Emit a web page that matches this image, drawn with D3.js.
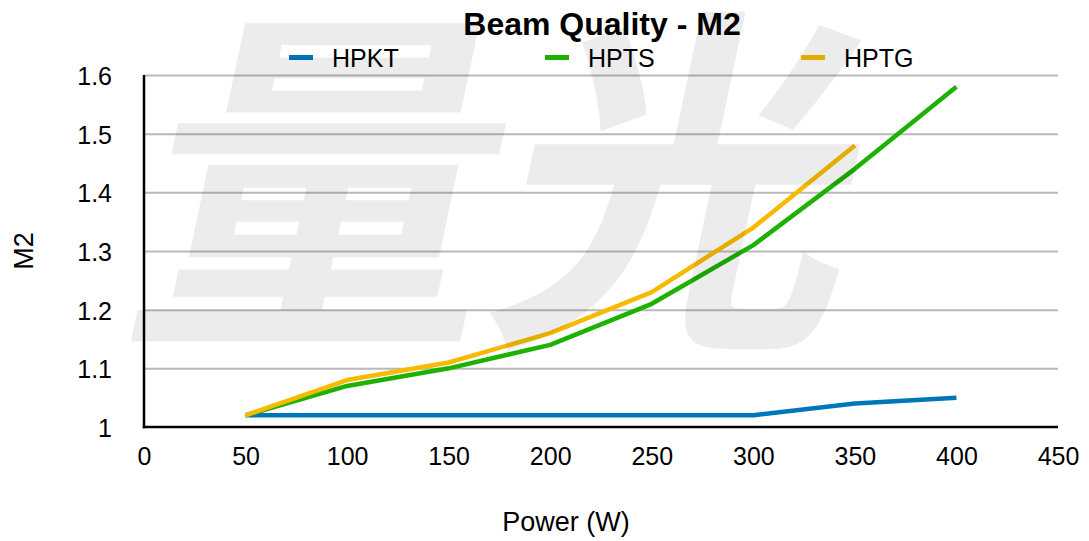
<html>

<head>
  <script src="https://d3js.org/d3.v7.min.js"></script>
  <style>
    body {
      margin: 0;
      background: #fff;
    }

    svg text {
      font-family: "Liberation Sans", Arial, Helvetica, sans-serif;
    }

    .axis .domain {
      display: none;
    }

    .gridlines .domain {
      display: none;
    }

    .gridlines line {
      stroke: #b9b9b9;
      stroke-width: 2;
    }
  </style>
</head>

<body>
  <svg width="1089" height="541" id="chart"></svg>
  <script>
    // data
    const powers = [50, 100, 150, 200, 250, 300, 350, 400];
    const hpkt = [1.02, 1.02, 1.02, 1.02, 1.02, 1.02, 1.04, 1.05];
    const hpts = [1.02, 1.07, 1.10, 1.14, 1.21, 1.31, 1.44, 1.58];
    const hptg = [1.02, 1.08, 1.11, 1.16, 1.23, 1.34, 1.48];
    const seriesNames = ["HPKT", "HPTS", "HPTG"];
    const seriesColors = ["#0076BA", "#1DB100", "#F8BA00"];
    const xTicks = [0, 50, 100, 150, 200, 250, 300, 350, 400, 450];
    const yTicks = [1, 1.1, 1.2, 1.3, 1.4, 1.5, 1.6];

    const seriesValues = [hpkt, hpts, hptg];
    const series = seriesNames.map((name, i) => ({
      name: name,
      color: seriesColors[i],
      points: seriesValues[i].map((v, j) => [powers[j], v])
    }));

    const svg = d3.select("svg#chart");
    const margins = { top: 75, right: 31, bottom: 114, left: 144 };
    const width = svg.attr("width"), height = svg.attr("height");
    const chartWidth = width - margins.left - margins.right;
    const chartHeight = height - margins.top - margins.bottom;

    const xScale = d3.scaleLinear().domain([0, 450]).range([0, chartWidth]);
    const yScale = d3.scaleLinear().domain([1, 1.6]).range([chartHeight, 0]);

    const chart = svg.append("g")
      .attr("transform", `translate(${margins.left},${margins.top})`);

    // gridlines (the 1.0 line is the black x axis)
    chart.append("g")
      .attr("class", "gridlines")
      .call(d3.axisLeft(yScale).tickValues(yTicks.slice(1)).tickSize(-chartWidth).tickFormat(""));

    // axes
    const leftAxis = chart.append("g")
      .attr("class", "axis")
      .call(d3.axisLeft(yScale).tickValues(yTicks).tickSize(0).tickPadding(32).tickFormat(d3.format("~g")));
    leftAxis.selectAll("text")
      .attr("font-size", 25).attr("fill", "#000").attr("dy", "0.38em")
      .style("font-family", "'Liberation Sans', Arial, sans-serif");

    const bottomAxis = chart.append("g")
      .attr("class", "axis")
      .attr("transform", `translate(0,${chartHeight})`)
      .call(d3.axisBottom(xScale).tickValues(xTicks).tickSize(0).tickPadding(20));
    bottomAxis.selectAll("text")
      .attr("font-size", 25).attr("fill", "#000")
      .style("font-family", "'Liberation Sans', Arial, sans-serif");

    chart.append("line")
      .attr("x1", 0).attr("x2", 0).attr("y1", yScale(1.6)).attr("y2", yScale(1) + 1.2)
      .attr("stroke", "#000").attr("stroke-width", 2.5);
    chart.append("line")
      .attr("x1", -1.2).attr("x2", chartWidth).attr("y1", yScale(1)).attr("y2", yScale(1))
      .attr("stroke", "#000").attr("stroke-width", 2.5);

    // lines
    const line = d3.line()
      .x(d => xScale(d[0]))
      .y(d => yScale(d[1]));

    chart.selectAll("path.series")
      .data(series)
      .join("path")
      .attr("class", "series")
      .attr("fill", "none")
      .attr("stroke", d => d.color)
      .attr("stroke-width", 4.5)
      .attr("stroke-linejoin", "round")
      .attr("d", d => line(d.points));

    // title
    svg.append("text")
      .attr("x", 602).attr("y", 35)
      .attr("text-anchor", "middle")
      .attr("font-size", 32).attr("font-weight", "bold")
      .text("Beam Quality - M2");

    // legend
    const legend = svg.selectAll("g.legend")
      .data(series)
      .join("g")
      .attr("class", "legend")
      .attr("transform", (d, i) => `translate(${289 + i * 256},0)`);
    legend.append("rect")
      .attr("x", 0).attr("y", 55).attr("width", 24).attr("height", 5)
      .attr("fill", d => d.color);
    legend.append("text")
      .attr("x", 43).attr("y", 67)
      .attr("font-size", 25)
      .text(d => d.name);

    // axis titles
    svg.append("text")
      .attr("x", 566).attr("y", 531)
      .attr("text-anchor", "middle")
      .attr("font-size", 27)
      .text("Power (W)");
    svg.append("text")
      .attr("transform", "translate(33,251) rotate(-90)")
      .attr("text-anchor", "middle")
      .attr("font-size", 27)
      .text("M2");

    // watermark over everything
    svg.append("text")
      .attr("transform", "translate(120,318) skewX(-12)")
      .attr("font-size", 360)
      .attr("font-weight", "bold")
      .style("font-family", "'Noto Sans CJK SC', sans-serif")
      .attr("fill", "#000")
      .attr("fill-opacity", 0.075)
      .attr("pointer-events", "none")
      .text("量光");
  </script>
</body>

</html>
